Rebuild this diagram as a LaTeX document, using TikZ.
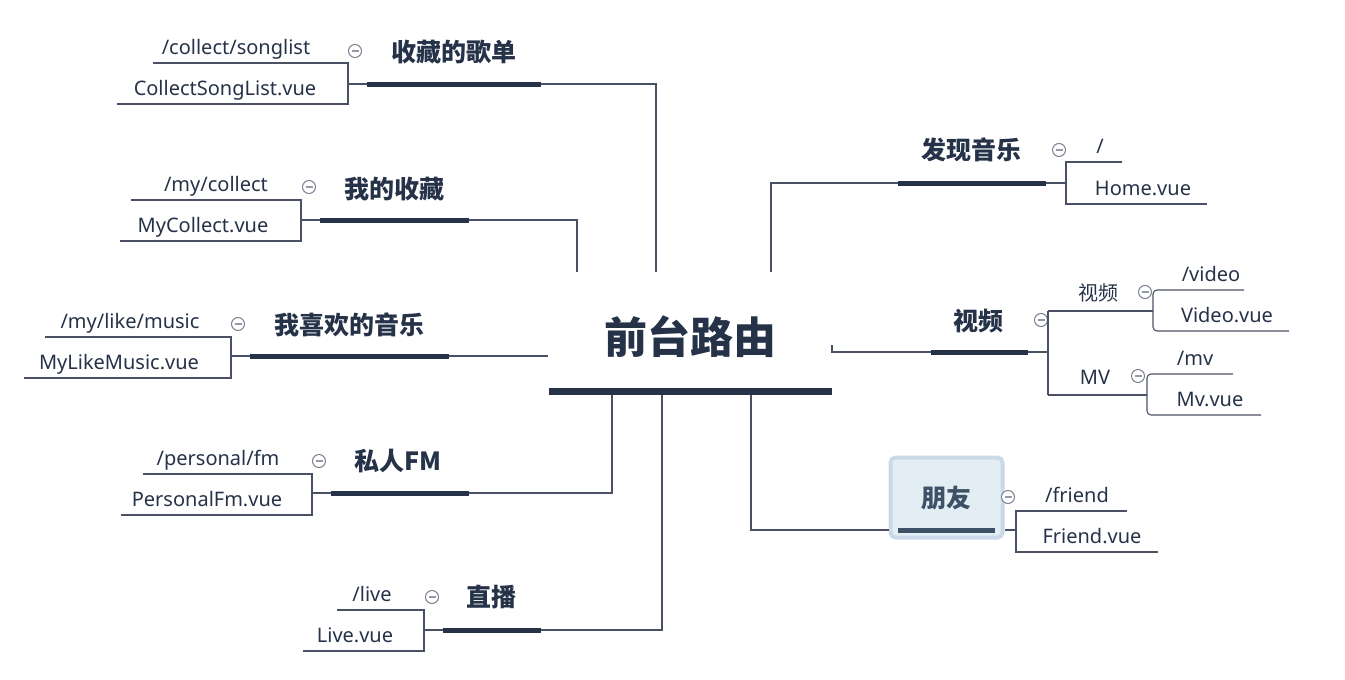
\documentclass[tikz,border=0pt]{standalone}
\usepackage{fontspec}
\setmainfont{Noto Sans CJK SC}
\newfontfamily\latinf{Noto Sans}
\definecolor{navy}{HTML}{253248}
\definecolor{linec}{HTML}{4A5164}
\definecolor{foldc}{HTML}{7A8090}
\definecolor{friendfill}{HTML}{E2EEF4}
\definecolor{friendedge}{HTML}{C9D9E7}
\definecolor{friendtext}{HTML}{3D5266}
\tikzset{
  conn/.style={draw=linec, line width=1.1pt},
  ulbr/.style={draw=linec, line width=1.1pt},
  barline/.style={draw=navy, line width=5pt},
  rootbar/.style={draw=navy, line width=7pt},
  title/.style={font=\fontsize{25}{29}\selectfont\bfseries, text=navy, inner sep=0pt},
  roottitle/.style={font=\fontsize{43}{48}\selectfont\bfseries, text=navy, inner sep=0pt},
  leaf/.style={font=\latinf\fontsize{20}{24}\selectfont, text=navy, anchor=base, inner sep=0pt},
  sublabel/.style={font=\fontsize{20}{24}\selectfont, text=navy, inner sep=0pt},
  foldmark/.style={circle, draw=foldc, fill=white, line width=1pt, minimum size=13pt, inner sep=0pt,
    path picture={\draw[draw=foldc!80, line width=1.2pt]
      ([xshift=-3.5pt]path picture bounding box.center) -- ([xshift=3.5pt]path picture bounding box.center);}},
}
\begin{document}
\begin{tikzpicture}[x=1pt,y=-1pt]
\useasboundingbox (0,0) rectangle (1345,680);

% ---------- root ----------
\node[roottitle] (root) at (690,337) {前台路由};
\coordinate (rootbl) at (549,391);
\coordinate (rootbr) at (832,391);
\draw[rootbar] (rootbl) -- (rootbr);

% ---------- 1 收藏的歌单 ----------
\node[title] (t1) at (454,52) {收藏的歌单};
\coordinate (b1l) at (367,84); \coordinate (b1r) at (541,84);
\coordinate (r1) at (656,272);
\draw[conn] (b1r) -| (r1);
\draw[barline] (b1l) -- (b1r);
\coordinate (k1) at (348,84);
\draw[conn] (k1) -- (b1l);
\node[foldmark] (f1) at (355,51) {};
\node[leaf] (p1) at (236,54) {/collect/songlist};
\node[leaf] (v1) at (225,95) {CollectSongList.vue};
\coordinate (u1a) at (153,63); \coordinate (u1b) at (348,63);
\coordinate (u1c) at (348,104); \coordinate (u1d) at (117,104);
\draw[ulbr] (u1a) -- (u1b) -- (u1c) -- (u1d);

% ---------- 2 我的收藏 ----------
\node[title] (t2) at (394,189) {我的收藏};
\coordinate (b2l) at (320,220); \coordinate (b2r) at (469,220);
\coordinate (r2) at (577,272);
\draw[conn] (b2r) -| (r2);
\draw[barline] (b2l) -- (b2r);
\coordinate (k2) at (301,220);
\draw[conn] (k2) -- (b2l);
\node[foldmark] (f2) at (309,187) {};
\node[leaf] (p2) at (216,191) {/my/collect};
\node[leaf] (v2) at (203,232) {MyCollect.vue};
\coordinate (u2a) at (131,200); \coordinate (u2b) at (301,200);
\coordinate (u2c) at (301,241); \coordinate (u2d) at (120,241);
\draw[ulbr] (u2a) -- (u2b) -- (u2c) -- (u2d);

% ---------- 3 我喜欢的音乐 ----------
\node[title] (t3) at (349,325) {我喜欢的音乐};
\coordinate (b3l) at (250,356); \coordinate (b3r) at (449,356);
\coordinate (r3) at (548,356);
\draw[conn] (b3r) -- (r3);
\draw[barline] (b3l) -- (b3r);
\coordinate (k3) at (231,356);
\draw[conn] (k3) -- (b3l);
\node[foldmark] (f3) at (238,324) {};
\node[leaf] (p3) at (130,328) {/my/like/music};
\node[leaf] (v3) at (119,369) {MyLikeMusic.vue};
\coordinate (u3a) at (45,337); \coordinate (u3b) at (231,337);
\coordinate (u3c) at (231,378); \coordinate (u3d) at (24,378);
\draw[ulbr] (u3a) -- (u3b) -- (u3c) -- (u3d);

% ---------- 4 私人FM ----------
\node[title] (t4) at (398,461) {私人FM};
\coordinate (b4l) at (331,493); \coordinate (b4r) at (469,493);
\coordinate (r4) at (612,395);
\draw[conn] (b4r) -| (r4);
\draw[barline] (b4l) -- (b4r);
\coordinate (k4) at (312,493);
\draw[conn] (k4) -- (b4l);
\node[foldmark] (f4) at (319,461) {};
\node[leaf] (p4) at (218,465) {/personal/fm};
\node[leaf] (v4) at (207,506) {PersonalFm.vue};
\coordinate (u4a) at (143,474); \coordinate (u4b) at (312,474);
\coordinate (u4c) at (312,515); \coordinate (u4d) at (121,515);
\draw[ulbr] (u4a) -- (u4b) -- (u4c) -- (u4d);

% ---------- 5 直播 ----------
\node[title] (t5) at (491,597) {直播};
\coordinate (b5l) at (443,630); \coordinate (b5r) at (541,630);
\coordinate (r5) at (662,395);
\draw[conn] (b5r) -| (r5);
\draw[barline] (b5l) -- (b5r);
\coordinate (k5) at (424,630);
\draw[conn] (k5) -- (b5l);
\node[foldmark] (f5) at (432,597) {};
\node[leaf] (p5) at (372,601) {/live};
\node[leaf] (v5) at (355,642) {Live.vue};
\coordinate (u5a) at (337,610); \coordinate (u5b) at (424,610);
\coordinate (u5c) at (424,651); \coordinate (u5d) at (303,651);
\draw[ulbr] (u5a) -- (u5b) -- (u5c) -- (u5d);

% ---------- 6 发现音乐 ----------
\node[title] (t6) at (971,150) {发现音乐};
\coordinate (b6l) at (898,183); \coordinate (b6r) at (1046,183);
\coordinate (r6) at (771,272);
\draw[conn] (b6l) -| (r6);
\draw[barline] (b6l) -- (b6r);
\coordinate (k6) at (1066,183);
\draw[conn] (b6r) -- (k6);
\node[foldmark] (f6) at (1059,150) {};
\node[leaf] (p6) at (1100,153) {/};
\node[leaf] (v6) at (1143,195) {Home.vue};
\coordinate (u6a) at (1122,162); \coordinate (u6b) at (1066,162);
\coordinate (u6c) at (1066,204); \coordinate (u6d) at (1207,204);
\draw[ulbr] (u6a) -- (u6b) -- (u6c) -- (u6d);

% ---------- 7 视频 ----------
\node[title] (t7) at (978,321) {视频};
\coordinate (b7l) at (931,352); \coordinate (b7r) at (1028,352);
\coordinate (r7) at (832,345);
\draw[conn] (r7) |- (b7l);
\draw[barline] (b7l) -- (b7r);
\coordinate (k7) at (1048,352);
\draw[conn] (b7r) -- (k7);
\node[foldmark] (f7) at (1041,320) {};
\coordinate (k7a) at (1048,311); \coordinate (k7b) at (1048,395);
\draw[conn] (k7a) -- (k7b);
% sub 视频
\node[sublabel] (s7a) at (1098,293) {视频};
\coordinate (k7ae) at (1153,311);
\draw[conn] (k7a) -- (k7ae);
\node[foldmark] (f7a) at (1145,292) {};
\node[leaf] (p7a) at (1211,281) {/video};
\node[leaf] (v7a) at (1227,322) {Video.vue};
\coordinate (u7aa) at (1244,290); \coordinate (u7ab) at (1153,290);
\coordinate (u7ac) at (1153,331); \coordinate (u7ad) at (1289,331);
\draw[ulbr, rounded corners=4pt] (u7aa) -- (u7ab) -- (u7ac) -- (u7ad);
% sub MV
\node[leaf] (s7b) at (1095,384) {MV};
\coordinate (k7be) at (1147,395);
\draw[conn] (k7b) -- (k7be);
\node[foldmark] (f7b) at (1138,376) {};
\node[leaf] (p7b) at (1195,365) {/mv};
\node[leaf] (v7b) at (1210,406) {Mv.vue};
\coordinate (u7ba) at (1233,374); \coordinate (u7bb) at (1147,374);
\coordinate (u7bc) at (1147,415); \coordinate (u7bd) at (1261,415);
\draw[ulbr, rounded corners=4pt] (u7ba) -- (u7bb) -- (u7bc) -- (u7bd);

% ---------- 8 朋友 ----------
\node[draw=friendedge, fill=friendfill, line width=4pt, rounded corners=5pt,
      minimum width=112pt, minimum height=80pt, inner sep=0pt] (box8) at (946.5,497.5) {};
\node[title, text=friendtext] (t8) at (946,498) {朋友};
\coordinate (r8) at (751,395);
\coordinate (b8l) at (898,530); \coordinate (b8r) at (995,530);
\draw[conn] (r8) |- (box8.west |- b8l);
\draw[draw=friendtext, line width=5pt] (b8l) -- (b8r);
\coordinate (k8) at (1016,530);
\draw[conn] (box8.east |- b8r) -- (k8);
\node[foldmark] (f8) at (1008,497) {};
\node[leaf] (p8) at (1077,502) {/friend};
\node[leaf] (v8) at (1092,543) {Friend.vue};
\coordinate (u8a) at (1127,511); \coordinate (u8b) at (1016,511);
\coordinate (u8c) at (1016,552); \coordinate (u8d) at (1158,552);
\draw[ulbr] (u8a) -- (u8b) -- (u8c) -- (u8d);
\end{tikzpicture}
\end{document}
